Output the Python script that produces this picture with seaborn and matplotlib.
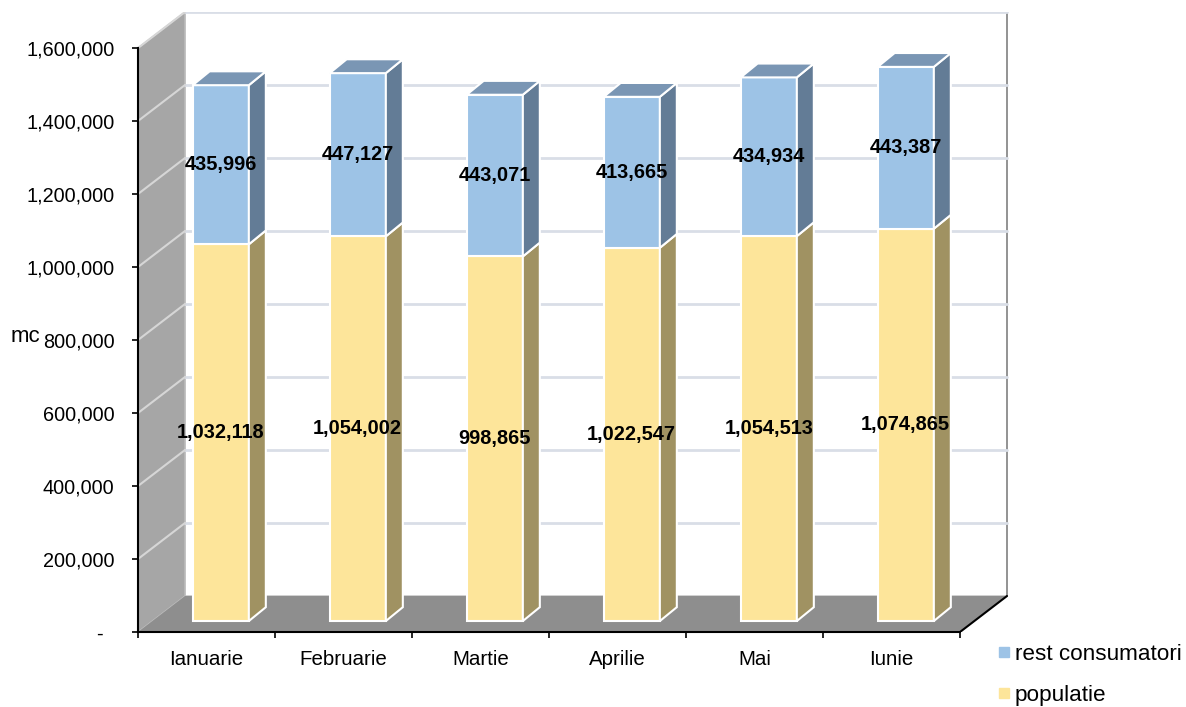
import matplotlib
matplotlib.use("Agg")
import matplotlib.pyplot as plt
import seaborn as sns
import numpy as np
from matplotlib.patches import Polygon
from matplotlib.lines import Line2D
from matplotlib.ticker import FuncFormatter

# =========================
# Data
# =========================
months = ["Ianuarie", "Februarie", "Martie", "Aprilie", "Mai", "Iunie"]
populatie = [1032118, 1054002, 998865, 1022547, 1054513, 1074865]
rest_consumatori = [435996, 447127, 443071, 413665, 434934, 443387]
y_ticks = [0, 200000, 400000, 600000, 800000, 1000000, 1200000, 1400000, 1600000]

sns.set_theme(style="white")
plt.rcParams["font.family"] = ["Liberation Sans", "DejaVu Sans"]
plt.rcParams["text.color"] = "black"
plt.rcParams["xtick.labelcolor"] = "black"
plt.rcParams["ytick.labelcolor"] = "black"

# colours
c_pop, c_pop_side = "#FDE59A", "#A09262"
c_rest, c_rest_side, c_rest_top = "#9DC3E6", "#637C96", "#7A96B4"

# pseudo 3D geometry (in data units)
n = len(months)
ymax = 1600000
wall_dx, wall_dy = 0.343, 98600      # depth of the walls
off_dx, off_dy = 0.104, 30000        # bar front offset from the front plane
bar_dx, bar_dy = 0.124, 38000        # depth of a bar
bar_w = 0.41

fig = plt.figure(figsize=(11.86, 7.07), dpi=100)
ax = fig.add_axes([138 / 1186, 75 / 707, (6.4 * 137) / 1186, (1.7e6 * 365e-6) / 707])
ax.set_xlim(0, 6.4)
ax.set_ylim(0, 1.7e6)
ax.set_facecolor("none")

# =========================
# Walls and floor
# =========================
ax.add_patch(Polygon([(wall_dx, wall_dy), (n + wall_dx, wall_dy),
                      (n + wall_dx, ymax + wall_dy), (wall_dx, ymax + wall_dy)],
                     closed=True, facecolor="white", edgecolor="#C8C8C8", lw=1.2, zorder=0))
ax.plot([n + wall_dx, n + wall_dx], [wall_dy, ymax + wall_dy], color="#8A8A8A", lw=1.2, zorder=0.5)
ax.add_patch(Polygon([(0, 0), (wall_dx, wall_dy), (wall_dx, ymax + wall_dy), (0, ymax)],
                     closed=True, facecolor="#A6A6A6", edgecolor="#BDBDBD", lw=1, zorder=1))
for v in y_ticks[1:]:
    ax.plot([wall_dx, n + wall_dx], [v + wall_dy, v + wall_dy], color="#D9DEE7", lw=2, zorder=1.5)
    ax.plot([0, wall_dx], [v, v + wall_dy], color="#D6D6D6", lw=1.5, zorder=1.5)
ax.add_patch(Polygon([(0, 0), (n, 0), (n + wall_dx, wall_dy), (wall_dx, wall_dy)],
                     closed=True, facecolor="#8E8E8E", edgecolor="none", zorder=2))
ax.plot([n, n + wall_dx], [0, wall_dy], color="black", lw=1.5, zorder=2.5)

# =========================
# Bars
# =========================
xl = np.arange(n) + 0.5 - bar_w / 2 + off_dx
xr = xl + bar_w
pop = np.array(populatie)
rest = np.array(rest_consumatori)
total = pop + rest

ax.bar(xl, pop, width=bar_w, bottom=off_dy, align="edge", color=c_pop,
       edgecolor="white", lw=1.5, zorder=3)
ax.bar(xl, rest, width=bar_w, bottom=off_dy + pop, align="edge", color=c_rest,
       edgecolor="white", lw=1.5, zorder=3)

for i in range(n):
    b0, b1, b2 = off_dy, off_dy + pop[i], off_dy + total[i]
    ax.add_patch(Polygon([(xr[i], b0), (xr[i] + bar_dx, b0 + bar_dy),
                          (xr[i] + bar_dx, b1 + bar_dy), (xr[i], b1)],
                         closed=True, facecolor=c_pop_side, edgecolor="white", lw=1.5, zorder=3))
    ax.add_patch(Polygon([(xr[i], b1), (xr[i] + bar_dx, b1 + bar_dy),
                          (xr[i] + bar_dx, b2 + bar_dy), (xr[i], b2)],
                         closed=True, facecolor=c_rest_side, edgecolor="white", lw=1.5, zorder=3))
    ax.add_patch(Polygon([(xl[i], b2), (xr[i], b2), (xr[i] + bar_dx, b2 + bar_dy),
                          (xl[i] + bar_dx, b2 + bar_dy)],
                         closed=True, facecolor=c_rest_top, edgecolor="white", lw=1.5, zorder=3))
    xc = (xl[i] + xr[i]) / 2
    ax.text(xc, off_dy + pop[i] / 2, f"{pop[i]:,}", ha="center", va="center",
            fontsize=14.4, fontweight="bold", color="black", zorder=5)
    ax.text(xc, off_dy + pop[i] + rest[i] / 2, f"{rest[i]:,}", ha="center", va="center",
            fontsize=14.4, fontweight="bold", color="black", zorder=5)

# =========================
# Axes, ticks, labels
# =========================
for s in ["top", "right"]:
    ax.spines[s].set_visible(False)
ax.spines["left"].set_bounds(0, ymax)
ax.spines["bottom"].set_bounds(0, n)
for s in ["left", "bottom"]:
    ax.spines[s].set_color("black")
    ax.spines[s].set_linewidth(1.5)
    ax.spines[s].set_zorder(6)

ax.set_yticks(y_ticks)
ax.yaxis.set_major_formatter(FuncFormatter(lambda v, p: "-  " if v == 0 else f"{int(v):,}"))
ax.tick_params(axis="y", left=True, length=4, width=1.2, color="black", pad=13,
               labelsize=14.3, labelcolor="black")

ax.set_xticks(np.arange(n) + 0.5)
ax.set_xticklabels(months)
ax.set_xticks(np.arange(n + 1), minor=True)
ax.tick_params(axis="x", which="major", bottom=False, length=0, pad=13, labelsize=14.8,
               labelcolor="black")
ax.tick_params(axis="x", which="minor", bottom=True, length=4, width=1.2, color="black")

fig.text(11 / 1186, 1 - 336 / 707, "mc", fontsize=16, ha="left", va="center", color="black")

handles = [Line2D([], [], marker="s", ls="none", color=c_rest, markersize=7),
           Line2D([], [], marker="s", ls="none", color=c_pop, markersize=7)]
leg = fig.legend(handles, ["rest consumatori", "populatie"], loc="upper left",
                 bbox_to_anchor=(998 / 1186, 1 - 644 / 707), frameon=False, fontsize=16.2,
                 handlelength=0.55, handletextpad=0.2, labelspacing=0.9, borderpad=0,
                 borderaxespad=0)
for t in leg.get_texts():
    t.set_color("black")

fig.savefig("out.png", dpi=100)
